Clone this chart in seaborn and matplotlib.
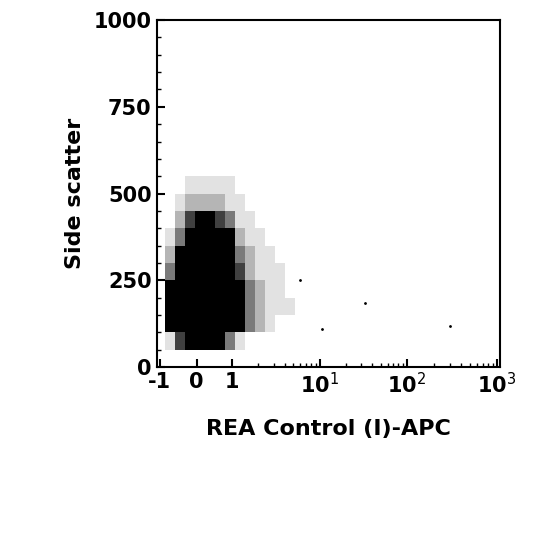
import numpy as np
import pandas as pd
import matplotlib
matplotlib.use("Agg")
import matplotlib.pyplot as plt
import seaborn as sns

# display-scale x (pixel-like units along the biexponential axis)
x_centers = [170, 180, 190, 200, 210, 220, 230, 240, 250, 260, 270, 280, 290]
y_centers = [75, 125, 175, 225, 275, 325, 375, 425, 475, 525]
# estimated dot density (rows follow y_centers, bottom to top)
density = [
    [1, 4, 6, 6, 6, 5, 3, 1, 0, 0, 0, 0, 0],
    [6, 10, 10, 10, 10, 10, 10, 5, 3, 2, 1, 0, 0],
    [6, 10, 10, 10, 10, 10, 10, 6, 3, 2, 1, 1, 1],
    [5, 10, 10, 10, 10, 10, 10, 5, 3, 2, 1, 1, 0],
    [3, 8, 10, 10, 10, 10, 9, 4, 2, 1, 1, 1, 0],
    [2, 5, 8, 10, 10, 9, 7, 3, 2, 1, 1, 0, 0],
    [1, 3, 6, 8, 8, 7, 5, 2, 1, 1, 0, 0, 0],
    [0, 2, 4, 5, 5, 4, 3, 1, 1, 0, 0, 0, 0],
    [0, 1, 2, 2, 2, 2, 1, 1, 0, 0, 0, 0, 0],
    [0, 0, 1, 1, 1, 1, 1, 0, 0, 0, 0, 0, 0],
]
outlier_x = [300, 322, 365, 450]
outlier_y = [250, 110, 185, 120]

tick_pos = [160, 197, 232, 320, 407, 497]
tick_lab = ["-1", "0", "1", r"10$^1$", r"10$^2$", r"10$^3$"]

xx, yy = np.meshgrid(x_centers, y_centers)
df = pd.DataFrame({"x": xx.ravel(), "y": yy.ravel(), "w": np.array(density).ravel()})

sns.set_style("ticks")
plt.rcParams["font.family"] = ["DejaVu Sans"]
plt.rcParams["text.color"] = "black"
plt.rcParams["axes.labelcolor"] = "black"
plt.rcParams["xtick.color"] = "black"
plt.rcParams["ytick.color"] = "black"
plt.rcParams["axes.edgecolor"] = "black"
fig = plt.figure(figsize=(5.4, 5.4), dpi=100)
ax = fig.add_axes([0.29, 0.32, 0.636, 0.643])

sns.histplot(data=df, x="x", y="y", weights="w",
             bins=[np.arange(165, 300, 10), np.arange(50, 600, 50)],
             cmap="Greys", vmin=0, vmax=5, ax=ax, cbar=False)
ax.scatter(outlier_x, outlier_y, s=1, c="black")

ax.set_xlim(157, 500)
ax.set_ylim(0, 1000)
ax.set_xticks(tick_pos)
ax.set_xticklabels(tick_lab)
minor = []
for start, span in [(232, 88), (320, 87), (407, 90)]:
    minor += [start + np.log10(k) * span for k in range(2, 10)]
ax.set_xticks(minor, minor=True)
ax.set_yticks([0, 250, 500, 750, 1000])
ax.set_yticks(np.arange(0, 1001, 50), minor=True)
ax.tick_params(direction="in", length=6, width=1.5, labelsize=15)
ax.tick_params(which="minor", direction="in", length=3, width=1)
for lab in ax.get_xticklabels() + ax.get_yticklabels():
    lab.set_fontweight("bold")
for s in ax.spines.values():
    s.set_linewidth(1.5)
ax.set_xlabel("REA Control (I)-APC", fontsize=16, fontweight="bold", labelpad=16)
ax.set_ylabel("Side scatter", fontsize=16, fontweight="bold", labelpad=6)

fig.savefig("out.png", dpi=100)
